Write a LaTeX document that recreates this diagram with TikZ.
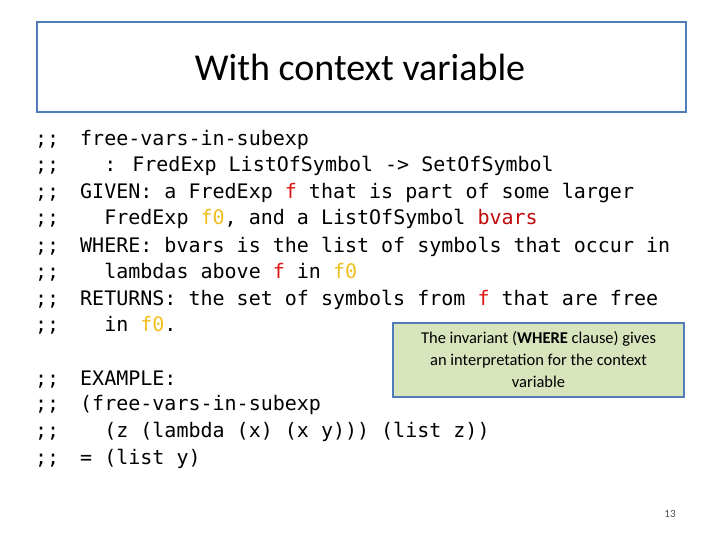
\documentclass[tikz,border=0pt]{standalone}
\usepackage{fontspec}
\setmainfont{Carlito}
\newfontfamily\codefont{DejaVu Sans Mono}
\definecolor{cr}{RGB}{225,20,20}
\definecolor{cy}{RGB}{240,190,30}
\definecolor{cd}{RGB}{192,10,10}
\definecolor{bx}{RGB}{80,125,185}
\definecolor{gr}{RGB}{216,228,188}
\begin{document}
\begin{tikzpicture}[x=1pt,y=-1pt,
  code/.style={anchor=base west,inner sep=0pt,font=\codefont\fontsize{20}{24}\selectfont}]
\useasboundingbox (0,0) rectangle (720,540);
\node[draw=bx,line width=2pt,minimum width=649,minimum height=90,anchor=north west] (title) at (36,21) {};
\node[font=\fontsize{38}{44}\selectfont] (tt) at (360,67) {With context variable};
\foreach \y [count=\i] in {146,172,199,225,252,278,305,331,385,410,437,464}
  \node[code] (s\i) at (35,\y) {;;};
\node[code] (l1) at (80,146) {free-vars-in-subexp};
\node[code] (l2) at (80,172) {\ \ : FredExp ListOfSymbol -> SetOfSymbol};
\node[code] (l3) at (80,199) {GIVEN: a FredExp \textcolor{cr}{f} that is part of some larger};
\node[code] (l4) at (80,225) {\ \ FredExp \textcolor{cy}{f0}, and a ListOfSymbol \textcolor{cd}{bvars}};
\node[code] (l5) at (80,252) {WHERE: bvars is the list of symbols that occur in};
\node[code] (l6) at (80,278) {\ \ lambdas above \textcolor{cr}{f} in \textcolor{cy}{f0}};
\node[code] (l7) at (80,305) {RETURNS: the set of symbols from \textcolor{cr}{f} that are free};
\node[code] (l8) at (80,331) {\ \ in \textcolor{cy}{f0}.};
\node[code] (l9) at (80,385) {EXAMPLE:};
\node[code] (l10) at (80,410) {(free-vars-in-subexp};
\node[code] (l11) at (80,437) {\ \ (z (lambda (x) (x y))) (list z))};
\node[code] (l12) at (80,464) {= (list y)};
\node[draw=bx,line width=2pt,fill=gr,minimum width=291,minimum height=74,anchor=north west] (nb) at (392,322) {};
\node[align=center,font=\fontsize{16.5}{22}\selectfont] (nt) at (nb.center) {The invariant (\textbf{WHERE} clause) gives\\an interpretation for the context\\variable};
\node[font=\fontsize{11}{13}\selectfont,text=black!70] (pg) at (670,514) {13};
\end{tikzpicture}
\end{document}
